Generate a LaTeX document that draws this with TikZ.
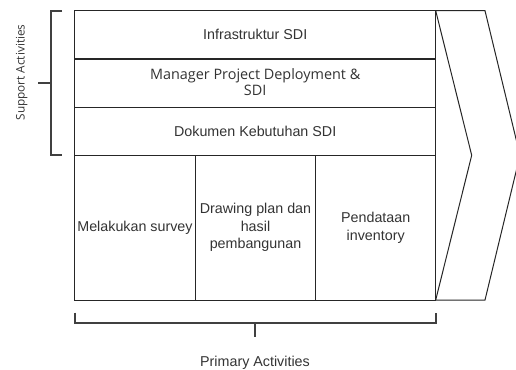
\documentclass[tikz,border=0pt]{standalone}
\usepackage{fontspec}
\setmainfont{Liberation Sans}
\newfontfamily\osans{Open Sans}
\begin{document}
\begin{tikzpicture}[x=1pt,y=-1pt,
  cell/.style={draw=black!85, line width=1pt, inner sep=0pt, outer sep=0pt,
    anchor=north west, align=center, text=black!80,
    font=\fontsize{14.3}{17.5}\selectfont},
  brace/.style={draw=black!75, line width=2pt},
  caption/.style={text=black!80, inner sep=0pt}]
\useasboundingbox (0,0) rectangle (516,369);

% support activities (rows)
\node[cell, minimum width=361pt, minimum height=48.3pt] (infra) at (74.7,10.7) {Infrastruktur SDI};
\node[cell, minimum width=361pt, minimum height=48.3pt] (mgr) at (74.7,59) {};
\node[align=center, text=black!80, inner sep=0pt, font=\osans\fontsize{14.4}{16.7}\selectfont] (mgrtxt) at ([yshift=1pt]mgr.center) {Manager Project Deployment \&\\SDI};
\node[cell, minimum width=361pt, minimum height=48pt] (dok) at (74.7,107.3) {Dokumen Kebutuhan SDI};

% primary activities (columns)
\node[cell, minimum width=120.6pt, minimum height=144.7pt] (survey) at (74.7,155.3) {Melakukan survey};
\node[cell, minimum width=120.4pt, minimum height=144.7pt] (draw) at (195.3,155.3) {Drawing plan dan\\hasil\\pembangunan};
\node[cell, minimum width=120pt, minimum height=144.7pt] (pend) at (315.7,155.3) {Pendataan\\inventory};

% margin chevron
\coordinate (chA) at (485,10.7);
\coordinate (chTip) at (520,155.3);
\coordinate (chB) at (485,300);
\coordinate (chNotch) at (471.7,155.3);
\begin{scope}
\clip (0,0) rectangle (516,369);
\draw[black!85, line width=1pt, line join=miter]
  (infra.north east) -- (chA) -- (chTip) -- (chB) -- (pend.south east) -- (chNotch) -- cycle;
\end{scope}

% support bracket
\coordinate (sTop) at (62,10.7);
\coordinate (sTopC) at (50.7,10.7);
\coordinate (sBotC) at (50.7,155.3);
\coordinate (sBot) at (62,155.3);
\coordinate (sMid) at (50.7,83.3);
\coordinate (sTick) at (38,83.3);
\draw[brace] (sTop) -- (sTopC) -- (sBotC) -- (sBot);
\draw[brace] (sMid) -- (sTick);
\node[caption, rotate=90, font=\osans\fontsize{11.8}{13}\selectfont] (suplbl) at (21.7,72.5) {Support Activities};

% primary bracket
\coordinate (pL) at (74.7,312.7);
\coordinate (pLC) at (74.7,323.3);
\coordinate (pRC) at (435.7,323.3);
\coordinate (pR) at (435.7,312.7);
\coordinate (pMid) at (255,323.3);
\coordinate (pTick) at (255,336.7);
\draw[brace] (pL) -- (pLC) -- (pRC) -- (pR);
\draw[brace] (pMid) -- (pTick);
\node[caption, anchor=base, font=\fontsize{14.3}{17}\selectfont] (prilbl) at (255,366.5) {Primary Activities};
\end{tikzpicture}
\end{document}
